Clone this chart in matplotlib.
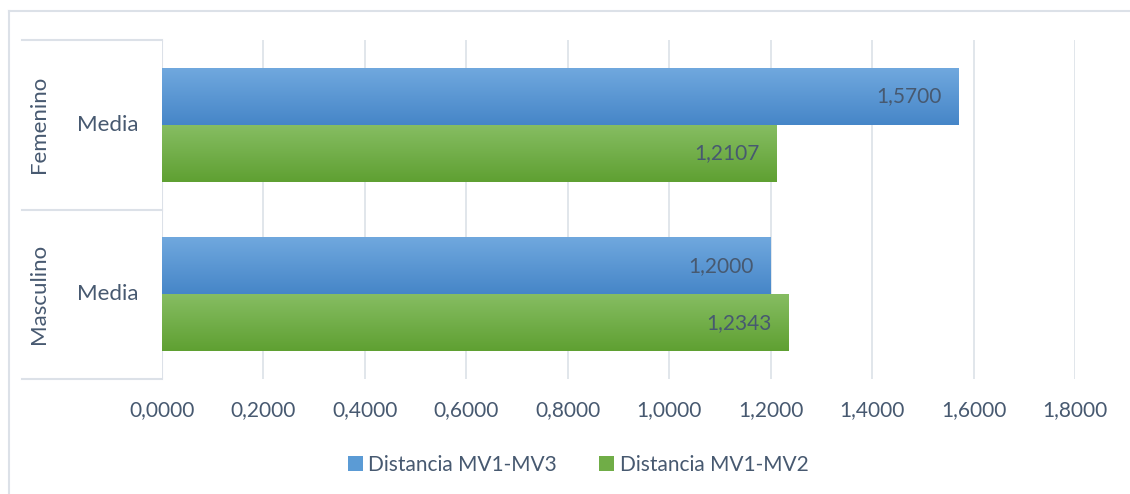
import numpy as np
import matplotlib
matplotlib.use("Agg")
import matplotlib.pyplot as plt
from matplotlib.lines import Line2D
from matplotlib.patches import Patch
import matplotlib.transforms as mtransforms

plt.rcParams['font.family'] = ['Lato', 'DejaVu Sans']

groups = ["Masculino", "Femenino"]          # bottom to top
sub_label = "Media"
series_names = ["Distancia MV1-MV3", "Distancia MV1-MV2"]
mv1_mv3 = [1.2000, 1.5700]
mv1_mv2 = [1.2343, 1.2107]
xticks = [0.0, 0.2, 0.4, 0.6, 0.8, 1.0, 1.2, 1.4, 1.6, 1.8]

TEXT = '#475970'
GRID = '#DCE1E8'
BLUE_TOP, BLUE_BOT = '#70A8DE', '#4686C8'
GREEN_TOP, GREEN_BOT = '#86BD62', '#5FA032'

W, H = 1130, 494
fig = plt.figure(figsize=(W / 100, H / 100), dpi=100)
ax = fig.add_axes([162 / W, 1 - 379 / H, (1075 - 162) / W, (379 - 40) / H])

y = np.arange(len(groups))
h = 0.335
b1 = ax.barh(y + h / 2, mv1_mv3, height=h, color='none', edgecolor='none')
b2 = ax.barh(y - h / 2, mv1_mv2, height=h, color='none', edgecolor='none')


def hexrgb(c):
    return np.array(matplotlib.colors.to_rgb(c))


def gradient_fill(bars, top, bot):
    t, b = hexrgb(top), hexrgb(bot)
    n = 64
    f = np.linspace(0, 1, n)[:, None]
    img = (t[None, :] * (1 - f) + b[None, :] * f)[:, None, :]
    for p in bars:
        x0, y0 = p.get_x(), p.get_y()
        x1, y1 = x0 + p.get_width(), y0 + p.get_height()
        ax.imshow(img, extent=[x0, x1, y0, y1], origin='upper',
                  aspect='auto', zorder=2, interpolation='bilinear')


gradient_fill(b1, BLUE_TOP, BLUE_BOT)
gradient_fill(b2, GREEN_TOP, GREEN_BOT)

for bars, vals in ((b1, mv1_mv3), (b2, mv1_mv2)):
    for p, v in zip(bars, vals):
        ax.annotate(f"{v:.4f}".replace('.', ','),
                    xy=(p.get_x() + p.get_width(), p.get_y() + p.get_height() / 2),
                    xytext=(-12, 0), textcoords='offset points',
                    ha='right', va='center', color=TEXT, fontsize=15, zorder=3)

ax.set_xlim(0, 1.8)
ax.set_ylim(-0.5, len(groups) - 0.5)
ax.set_xticks(xticks)
ax.set_xticklabels([f"{v:.4f}".replace('.', ',') for v in xticks])
ax.set_yticks([])
ax.tick_params(axis='x', length=0, pad=15, labelsize=15, labelcolor=TEXT)
for s in ax.spines.values():
    s.set_visible(False)
ax.grid(axis='x', color=GRID, linewidth=1.2, zorder=0)
ax.set_axisbelow(True)
ax.axvline(0, color=GRID, linewidth=1.5, zorder=1)

# category area on the left
trans = mtransforms.blended_transform_factory(ax.transAxes, ax.transData)
x_left = (22 - 162) / (1075 - 162)
for yy in [-0.5, 0.5, len(groups) - 0.5]:
    ax.add_line(Line2D([x_left, 0], [yy, yy], transform=trans, color=GRID,
                       linewidth=1.5, clip_on=False))
x_media = (108 - 162) / (1075 - 162)
x_group = (39 - 162) / (1075 - 162)
for yi, g in zip(y, groups):
    ax.text(x_media, yi, sub_label, transform=trans, ha='center', va='center',
            color=TEXT, fontsize=16)
    ax.text(x_group, yi, g, transform=trans, ha='center', va='center',
            rotation=90, color=TEXT, fontsize=16)

# legend
handles = [Patch(facecolor='#5B9BD5', edgecolor='none', label=series_names[0]),
           Patch(facecolor='#70AD47', edgecolor='none', label=series_names[1])]
fig.legend(handles=handles, loc='center', bbox_to_anchor=(578 / W, 1 - 465 / H),
           ncol=2, frameon=False, fontsize=15, labelcolor=TEXT,
           handlelength=0.75, handleheight=0.75, handletextpad=0.25,
           columnspacing=2.0, borderpad=0)

# outer border
fig.add_artist(Line2D([9 / W, 1.0], [1 - 11 / H, 1 - 11 / H], transform=fig.transFigure,
                      color=GRID, linewidth=1.5))
fig.add_artist(Line2D([9 / W, 9 / W], [0, 1 - 11 / H], transform=fig.transFigure,
                      color=GRID, linewidth=1.5))

fig.savefig('out.png', dpi=100, facecolor='white')
